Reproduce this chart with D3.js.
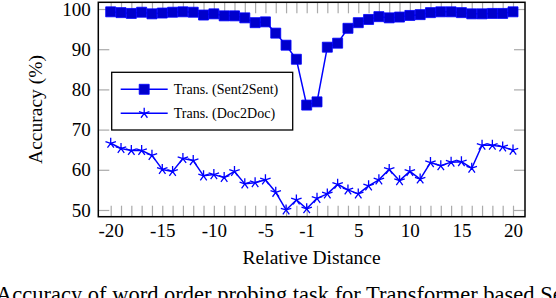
<!DOCTYPE html>
<html>
<head>
<meta charset="utf-8">
<script src="https://cdn.jsdelivr.net/npm/d3@7"></script>
<style>
  body { margin: 0; background: #fff; }
  svg { display: block; font-family: "Liberation Serif", "Times New Roman", serif; }
</style>
</head>
<body>
<div id="chart"></div>
<script>
// Relative distances (0 is skipped), one point per distance
const distances = [-20, -19, -18, -17, -16, -15, -14, -13, -12, -11, -10, -9, -8, -7, -6, -5, -4, -3, -2, -1,
    1, 2, 3, 4, 5, 6, 7, 8, 9, 10, 11, 12, 13, 14, 15, 16, 17, 18, 19, 20];
const sent2sent = [99.3, 99.1, 98.9, 99.2, 98.8, 99.0, 99.2, 99.3, 99.2, 98.5, 98.8, 98.3, 98.3, 97.8, 96.6, 96.8, 94.0, 91.0, 87.5, 76.1,
    76.9, 90.5, 91.5, 95.2, 96.6, 97.4, 98.1, 97.8, 98.0, 98.4, 98.6, 99.1, 99.3, 99.3, 99.1, 98.8, 98.8, 98.9, 98.9, 99.3];
const doc2doc = [66.6, 65.3, 64.8, 64.8, 63.6, 60.1, 59.6, 62.8, 62.3, 58.5, 58.8, 58.1, 59.6, 56.5, 56.8, 57.5, 54.4, 50.0, 52.5, 50.3,
    52.9, 54.0, 56.4, 55.0, 54.0, 56.0, 57.5, 60.1, 57.3, 59.6, 57.7, 61.8, 61.0, 61.9, 62.0, 60.4, 66.1, 66.1, 65.7, 64.9];
const xTickLabels = [-20, -15, -10, -5, -1, 5, 10, 15, 20];
const yTicks = [50, 60, 70, 80, 90, 100];
const seriesNames = ["Trans. (Sent2Sent)", "Trans. (Doc2Doc)"];

const width = 556;
const height = 298;
const frame = { left: 98.3, right: 525, top: 2.3, bottom: 216.7 };
const blue = "#0000ff";
const markFill = "#0000cc";
const tickColor = "#aaaaaa";

// x is the position of the distance in the list, so -1 and 1 sit side by side
const x = d3.scaleLinear()
    .domain([0, distances.length - 1])
    .range([110.7, 513]);
const y = d3.scaleLinear()
    .domain([48.33, 101.67])
    .range([frame.bottom, frame.top]);

// pgfplots style five armed star
const symbolStar = {
    draw(context, size) {
        const r = Math.sqrt(size) / 2;
        for (let k = 0; k < 5; k++) {
            const a = (-90 + 72 * k) * Math.PI / 180;
            context.moveTo(0, 0);
            context.lineTo(r * Math.cos(a), r * Math.sin(a));
        }
    }
};

const svg = d3.select("#chart").append("svg")
    .attr("width", width)
    .attr("height", height)
    .attr("viewBox", [0, 0, width, height]);

const idx = d3.range(distances.length);

// Tick marks, all pointing inward
function styleAxis(g) {
    g.select(".domain").remove();
    g.selectAll(".tick line").attr("stroke", tickColor).attr("stroke-width", 1.2);
    g.selectAll(".tick text").attr("fill", "#000").attr("font-size", 19)
        .attr("font-family", "Liberation Serif, Times New Roman, serif");
}

svg.append("g")
    .attr("transform", `translate(0,${frame.bottom})`)
    .call(d3.axisBottom(x).tickValues(idx).tickSize(-11).tickPadding(7)
        .tickFormat(i => xTickLabels.includes(distances[i]) ? distances[i] : ""))
    .call(styleAxis);

svg.append("g")
    .attr("transform", `translate(0,${frame.top})`)
    .call(d3.axisTop(x).tickValues(idx).tickSize(-11).tickFormat(""))
    .call(styleAxis);

svg.append("g")
    .attr("transform", `translate(${frame.left},0)`)
    .call(d3.axisLeft(y).tickValues(yTicks).tickSize(-11).tickPadding(7.5))
    .call(styleAxis);

svg.append("g")
    .attr("transform", `translate(${frame.right},0)`)
    .call(d3.axisRight(y).tickValues(yTicks).tickSize(-11).tickFormat(""))
    .call(styleAxis);

// Lines
const line = d3.line()
    .x((d, i) => x(i))
    .y(d => y(d));

svg.append("path")
    .datum(doc2doc)
    .attr("fill", "none")
    .attr("stroke", blue)
    .attr("stroke-width", 1.5)
    .attr("stroke-linejoin", "round")
    .attr("d", line);

svg.append("path")
    .datum(sent2sent)
    .attr("fill", "none")
    .attr("stroke", blue)
    .attr("stroke-width", 1.5)
    .attr("d", line);

// Markers
const square = d3.symbol().type(d3.symbolSquare).size(100);
const star = d3.symbol().type(symbolStar).size(121);

svg.append("g")
    .selectAll("path")
    .data(sent2sent)
    .join("path")
    .attr("transform", (d, i) => `translate(${x(i)},${y(d)})`)
    .attr("d", square)
    .attr("fill", markFill)
    .attr("stroke", blue)
    .attr("stroke-width", 0.8);

svg.append("g")
    .selectAll("path")
    .data(doc2doc)
    .join("path")
    .attr("transform", (d, i) => `translate(${x(i)},${y(d)})`)
    .attr("d", star)
    .attr("fill", "none")
    .attr("stroke", blue)
    .attr("stroke-width", 1.3);

// Frame
svg.append("rect")
    .attr("x", frame.left)
    .attr("y", frame.top)
    .attr("width", frame.right - frame.left)
    .attr("height", frame.bottom - frame.top)
    .attr("fill", "none")
    .attr("stroke", "#000")
    .attr("stroke-width", 1.5);

// Legend
const legend = svg.append("g").attr("transform", "translate(111.7,72.3)");
legend.append("rect")
    .attr("width", 181)
    .attr("height", 57.7)
    .attr("fill", "#fff")
    .attr("stroke", "#000")
    .attr("stroke-width", 1.3);

const rows = legend.selectAll("g.row")
    .data(seriesNames)
    .join("g")
    .attr("class", "row")
    .attr("transform", (d, i) => `translate(0,${17 + i * 24})`);

rows.append("line")
    .attr("x1", 9).attr("x2", 56)
    .attr("stroke", blue)
    .attr("stroke-width", 1.5);

rows.append("path")
    .attr("transform", "translate(32.5,0)")
    .attr("d", (d, i) => i === 0 ? square() : star())
    .attr("fill", (d, i) => i === 0 ? markFill : "none")
    .attr("stroke", blue)
    .attr("stroke-width", (d, i) => i === 0 ? 0.8 : 1.3);

rows.append("text")
    .attr("x", 62)
    .attr("y", 4.5)
    .attr("font-size", 14)
    .text(d => d);

// Axis titles
svg.append("text")
    .attr("x", (frame.left + frame.right) / 2)
    .attr("y", 264)
    .attr("text-anchor", "middle")
    .attr("font-size", 19.5)
    .text("Relative Distance");

svg.append("text")
    .attr("transform", `translate(42,${(frame.top + frame.bottom) / 2}) rotate(-90)`)
    .attr("text-anchor", "middle")
    .attr("font-size", 19.5)
    .text("Accuracy (%)");

// Caption, cut off by the picture edge
svg.append("text")
    .attr("x", -4)
    .attr("y", 302)
    .attr("font-size", 22.5)
    .text("Accuracy of word order probing task for Transformer based Sentence");
</script>
</body>
</html>
